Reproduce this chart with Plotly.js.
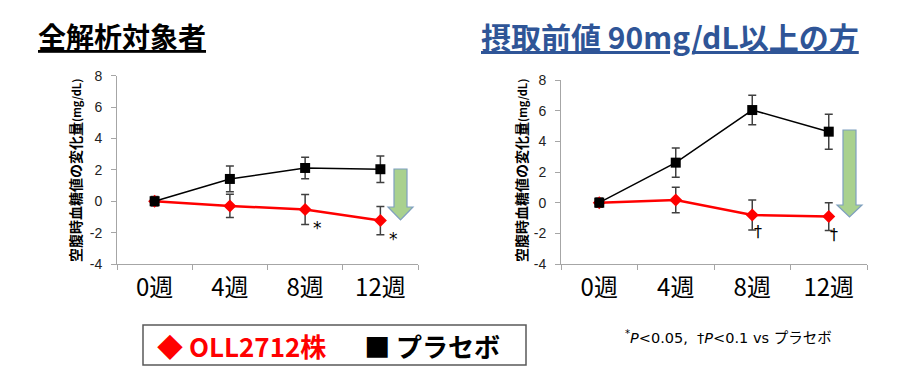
<!DOCTYPE html>
<html>
<head>
<meta charset="utf-8">
<script src="https://cdn.plot.ly/plotly-3.0.1.min.js"></script>
<style>html,body{margin:0;padding:0;background:#fff;}#chart{width:900px;height:380px;}</style>
</head>
<body>
<div id="chart"></div>
<script>
// ---- data ----
const weeks = ['0週', '4週', '8週', '12週'];
const yTicks = [-4, -2, 0, 2, 4, 6, 8];

// 全解析対象者
const allOll = [0, -0.3, -0.53, -1.23];
const allOllErr = [0.3, 0.74, 0.96, 0.9];
const allPla = [0, 1.42, 2.12, 2.04];
const allPlaErr = [0.2, 0.82, 0.68, 0.85];

// 摂取前値 90mg/dL以上の方
const highOll = [0, 0.17, -0.8, -0.91];
const highOllErr = [0.3, 0.83, 0.98, 0.9];
const highPla = [0, 2.61, 6.04, 4.63];
const highPlaErr = [0.2, 0.96, 0.96, 1.14];

const seriesNames = ['OLL2712株', 'プラセボ'];

// ---- helpers ----
const W = 900, H = 380;
const px = x => x / W;
const py = y => 1 - y / H;
const JP = 'Noto Sans CJK JP, Noto Sans, sans-serif';

function ollTrace(y, err, xa, ya) {
  return {
    type: 'scatter', mode: 'lines+markers', name: seriesNames[0],
    x: weeks, y: y, xaxis: xa, yaxis: ya,
    line: {color: '#ff0000', width: 2.5},
    marker: {symbol: 'diamond', size: 10, color: '#ff0000'},
    error_y: {type: 'data', array: err, visible: true, color: '#404040', thickness: 1.5, width: 4},
    cliponaxis: false
  };
}
function plaTrace(y, err, xa, ya) {
  return {
    type: 'scatter', mode: 'lines+markers', name: seriesNames[1],
    x: weeks, y: y, xaxis: xa, yaxis: ya,
    line: {color: '#000000', width: 1.5},
    marker: {symbol: 'square', size: 10, color: '#000000'},
    error_y: {type: 'data', array: err, visible: true, color: '#404040', thickness: 1.5, width: 4},
    cliponaxis: false
  };
}

function xAxis(domain, anchor) {
  return {
    type: 'category', categoryorder: 'array', categoryarray: weeks,
    domain: domain, anchor: anchor, range: [-0.5, 3.5],
    showline: true, linecolor: '#a6a6a6', linewidth: 1,
    ticks: 'outside', tickson: 'boundaries', ticklen: 5, tickcolor: '#a6a6a6',
    ticklabelstandoff: 2,
    tickfont: {family: JP, size: 24, color: '#000'},
    showgrid: false, zeroline: false, fixedrange: true
  };
}
function yAxis(domain, anchor) {
  return {
    domain: domain, anchor: anchor, range: [-4, 8],
    tickmode: 'array', tickvals: yTicks, ticktext: yTicks.map(String),
    showline: true, linecolor: '#a6a6a6', linewidth: 1,
    ticks: 'outside', ticklen: 5, tickcolor: '#a6a6a6',
    ticklabelstandoff: 6,
    tickfont: {family: 'Liberation Sans Narrow, Liberation Sans, Arial, sans-serif', size: 14, color: '#222'},
    showgrid: false, zeroline: false, fixedrange: true
  };
}

function arrowPath(cx, shaftHalf, headHalf, top, headBase, tip) {
  const P = (x, y) => px(x) + ',' + py(y);
  return 'M' + P(cx - shaftHalf, top) + ' L' + P(cx + shaftHalf, top) +
    ' L' + P(cx + shaftHalf, headBase) + ' L' + P(cx + headHalf, headBase) +
    ' L' + P(cx, tip) + ' L' + P(cx - headHalf, headBase) +
    ' L' + P(cx - shaftHalf, headBase) + ' Z';
}

const data = [
  ollTrace(allOll, allOllErr, 'x', 'y'),
  plaTrace(allPla, allPlaErr, 'x', 'y'),
  ollTrace(highOll, highOllErr, 'x2', 'y2'),
  plaTrace(highPla, highPlaErr, 'x2', 'y2')
];

const yTitle = '<b>空腹時血糖値の変化量</b><span style="font-size:11px"><b>(mg/dL)</b></span>';

const layout = {
  width: W, height: H,
  margin: {l: 0, r: 0, t: 0, b: 0},
  paper_bgcolor: '#fff', plot_bgcolor: '#fff',
  showlegend: false,
  xaxis: xAxis([px(117), px(418)], 'y'),
  yaxis: yAxis([py(264), py(75.7)], 'x'),
  xaxis2: xAxis([px(561), px(867)], 'y2'),
  yaxis2: yAxis([py(264), py(80)], 'x2'),
  shapes: [
    {type: 'path', xref: 'paper', yref: 'paper', path: arrowPath(400.5, 6.5, 12.5, 169, 207, 220),
     fillcolor: '#a9d18e', line: {color: '#7f9fbf', width: 1.2}},
    {type: 'path', xref: 'paper', yref: 'paper', path: arrowPath(849.5, 6.5, 12.5, 130, 205, 217),
     fillcolor: '#a9d18e', line: {color: '#7f9fbf', width: 1.2}},
    {type: 'rect', xref: 'paper', yref: 'paper', x0: px(143), x1: px(526), y0: py(365), y1: py(325),
     line: {color: '#595959', width: 1.5}, fillcolor: 'rgba(0,0,0,0)'}
  ],
  annotations: [
    {xref: 'paper', yref: 'paper', x: px(121.5), y: py(36), xanchor: 'center', yanchor: 'middle', showarrow: false,
     text: '<b><u>全解析対象者</u></b>', font: {family: JP, size: 28, color: '#000'}},
    {xref: 'paper', yref: 'paper', x: px(670), y: py(36), xanchor: 'center', yanchor: 'middle', showarrow: false,
     text: '<b><u>摂取前値 90mg/dL以上の方</u></b>', font: {family: JP, size: 30, color: '#2f5597'}},
    {xref: 'paper', yref: 'paper', x: px(75), y: py(171), xanchor: 'center', yanchor: 'middle', showarrow: false,
     textangle: -90, text: yTitle, font: {family: JP, size: 14, color: '#000'}},
    {xref: 'paper', yref: 'paper', x: px(521), y: py(171), xanchor: 'center', yanchor: 'middle', showarrow: false,
     textangle: -90, text: yTitle, font: {family: JP, size: 14, color: '#000'}},
    {xref: 'paper', yref: 'paper', x: px(317), y: py(228), showarrow: false, text: '*',
     font: {family: 'DejaVu Sans', size: 17, color: '#000'}},
    {xref: 'paper', yref: 'paper', x: px(393), y: py(239), showarrow: false, text: '*',
     font: {family: 'DejaVu Sans', size: 17, color: '#000'}},
    {xref: 'paper', yref: 'paper', x: px(764), y: py(231), showarrow: false, text: '†',
     font: {family: 'DejaVu Sans', size: 16, color: '#000'}},
    {xref: 'paper', yref: 'paper', x: px(840), y: py(234), showarrow: false, text: '†',
     font: {family: 'DejaVu Sans', size: 16, color: '#000'}},
    {xref: 'paper', yref: 'paper', x: px(328.5), y: py(345), xanchor: 'center', yanchor: 'middle', showarrow: false,
     text: '<b><span style="color:#ff0000">◆ ' + seriesNames[0] + '</span>　  ■ ' + seriesNames[1] + '</b>',
     font: {family: JP, size: 26, color: '#000'}},
    {xref: 'paper', yref: 'paper', x: px(728.5), y: py(337), xanchor: 'center', yanchor: 'middle', showarrow: false,
     text: '<sup>*</sup><i>P</i>&lt;0.05,  †<i>P</i>&lt;0.1 vs プラセボ',
     font: {family: 'DejaVu Sans, ' + JP, size: 14.5, color: '#000'}}
  ]
};

Plotly.newPlot('chart', data, layout, {staticPlot: true, displayModeBar: false});
</script>
</body>
</html>
